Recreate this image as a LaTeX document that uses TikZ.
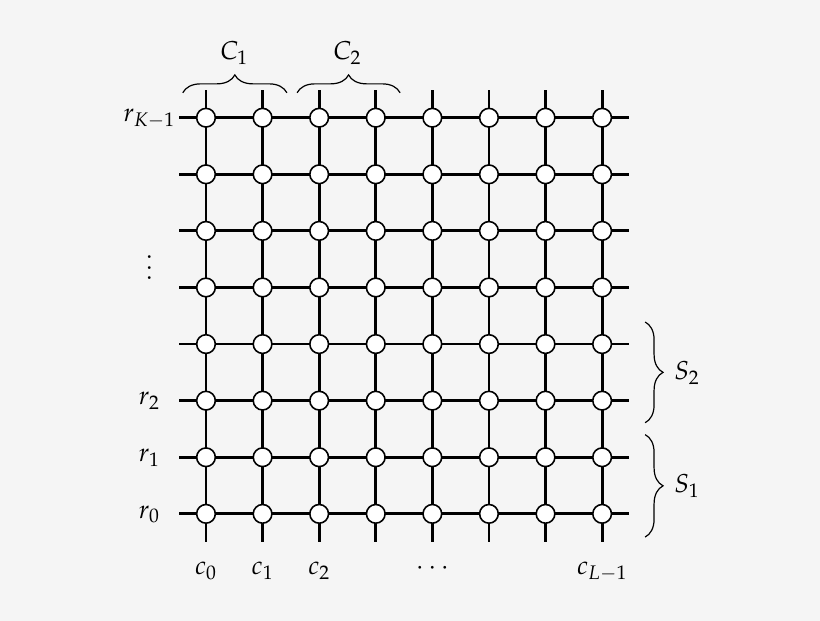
\documentclass[tikz,border=0pt]{standalone}
\usepackage{mathpazo}
\usetikzlibrary{decorations.pathreplacing,positioning}

\begin{document}
\begin{tikzpicture}[
	wire/.style  = {line width=1.4pt},
	site/.style  = {circle, draw, fill=white, line width=0.8pt, minimum size=0.33cm, inner sep=0pt},
	lbl/.style   = {font=\fontsize{13}{15}\selectfont, text height=1.6ex, text depth=0.6ex, inner sep=0pt},
	brace/.style = {decorate, decoration={brace, amplitude=9pt}, line width=0.6pt},
	]
	\useasboundingbox[fill=black!4] (-3.64,-1.89) rectangle (10.85,9.08);
	
	% ends of the wires
	\foreach \i in {0,...,7} {
		\coordinate (w\i) at (-0.47,\i);
		\coordinate (e\i) at (7.47,\i);
		\coordinate (s\i) at (\i,-0.49);
		\coordinate (n\i) at (\i,7.49);
	}
	
	\foreach \i in {0,...,7} {
		\draw[wire] (w\i) -- (e\i);
		\draw[wire] (s\i) -- (n\i);
	}
	
	\foreach \x in {0,...,7}
	\foreach \y in {0,...,7}
	\node[site] (q\x\y) at (\x,\y) {};
	
	% row labels
	\node[lbl] (r0) at (-1,0) {$r_0$};
	\node[lbl] (r1) at (-1,1) {$r_1$};
	\node[lbl] (r2) at (-1,2) {$r_2$};
	\node[inner sep=0pt, scale=1.35] (rv) at (-1,4.49) {$\vdots$};
	\node[lbl] (rK) at (-1,7) {$r_{K-1}$};
	
	% column labels
	\node[lbl] (c0) at (0,-1) {$c_0$};
	\node[lbl] (c1) at (1,-1) {$c_1$};
	\node[lbl] (c2) at (2,-1) {$c_2$};
	\node[lbl] (cd) at (4,-1) {$\cdots$};
	\node[lbl] (cL) at (7,-1) {$c_{L-1}$};
	
	% braces
	\coordinate (C1a) at (-0.41,7.44);
	\coordinate (C1b) at (1.43,7.44);
	\coordinate (C2a) at (1.61,7.44);
	\coordinate (C2b) at (3.43,7.44);
	\coordinate (S2a) at (7.76,3.39);
	\coordinate (S2b) at (7.76,1.61);
	\coordinate (S1a) at (7.76,1.40);
	\coordinate (S1b) at (7.76,-0.41);
	
	\draw[brace] (C1a) -- (C1b);
	\draw[brace] (C2a) -- (C2b);
	\draw[brace] (S2a) -- (S2b);
	\draw[brace] (S1a) -- (S1b);
	
	\node[lbl] (C1) at (0.5,8.1) {$C_1$};
	\node[lbl] (C2) at (2.5,8.1) {$C_2$};
	\node[lbl] (S2) at (8.5,2.45) {$S_2$};
	\node[lbl] (S1) at (8.5,0.45) {$S_1$};
	
\end{tikzpicture}
\end{document}
